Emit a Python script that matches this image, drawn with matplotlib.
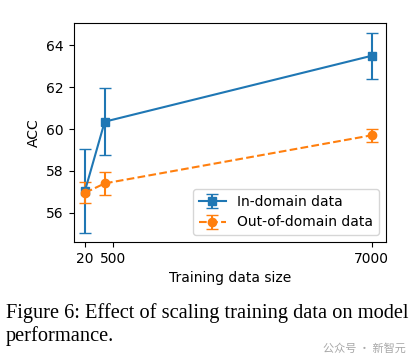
import matplotlib
matplotlib.use("Agg")
import matplotlib.pyplot as plt

# data
sizes = [20, 500, 7000]
in_acc = [57.05, 60.35, 63.5]
in_err = [2.0, 1.6, 1.1]
out_acc = [56.95, 57.4, 59.7]
out_err = [0.5, 0.55, 0.32]

tick_pos = [20, 700, 7000]
tick_labels = ["20", "500", "7000"]

fig = plt.figure(figsize=(4.2, 3.64), dpi=100)
ax = fig.add_axes([0.1755, 0.3352, 0.7435, 0.6024])

ax.errorbar(sizes, in_acc, yerr=in_err, fmt="s-", color="tab:blue",
            markersize=6, capsize=4, label="In-domain data")
ax.errorbar(sizes, out_acc, yerr=out_err, fmt="o--", color="tab:orange",
            markersize=6, capsize=4, label="Out-of-domain data")

ax.set_xticks(tick_pos)
ax.set_xticklabels(tick_labels)
ax.set_xlim(-255, 7348)
ax.set_ylim(54.6, 65.08)
ax.set_yticks([56, 58, 60, 62, 64])
ax.tick_params(labelsize=10)
ax.set_xlabel("Training data size", fontsize=10)
ax.set_ylabel("ACC", fontsize=10)
ax.legend(loc="lower right", fontsize=10)

# caption below the chart
fig.text(0.014, 0.126, "Figure 6: Effect of scaling training data on model",
         family="Liberation Serif", fontsize=14.7, va="baseline")
fig.text(0.014, 0.063, "performance.",
         family="Liberation Serif", fontsize=14.7, va="baseline")
fig.text(0.966, 0.033, "公众号 · 新智元", family=["Noto Sans CJK SC", "DejaVu Sans"],
         fontsize=8, color="#a8a8a8", ha="right", va="baseline")

fig.savefig("out.png", dpi=100)
